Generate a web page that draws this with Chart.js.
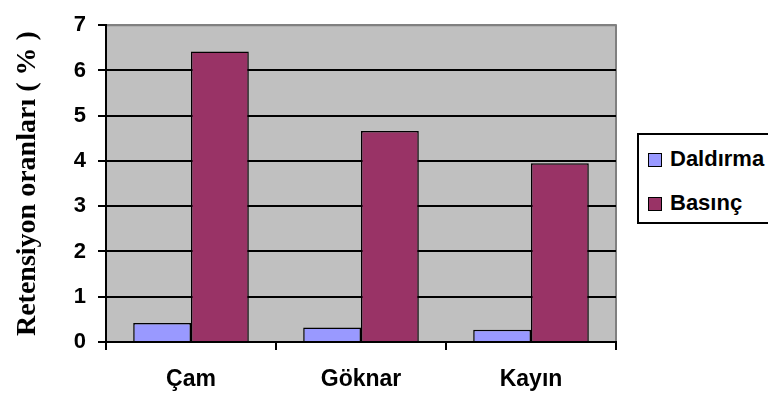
<!DOCTYPE html>
<html lang="tr">
    <head>
        <meta charset="UTF-8" />
        <title>Retensiyon oranları</title>
        <script src="https://cdn.jsdelivr.net/npm/chart.js@4.4.0/dist/chart.umd.min.js"></script>
        <style>
            html, body {
                margin: 0;
                padding: 0;
                background: #ffffff;
                overflow: hidden;
            }
            div.main {
                position: relative;
                width: 768px;
                height: 403px;
            }
            #legend {
                position: absolute;
                left: 637px;
                top: 133px;
                width: 150px;
                height: 87px;
                border: 2px solid #000;
                background: #fff;
                font-family: "Liberation Sans", Arial, sans-serif;
                font-weight: bold;
                font-size: 22px;
            }
            #legend .item {
                position: absolute;
                left: 9px;
                height: 26px;
                line-height: 26px;
                white-space: nowrap;
            }
            #legend .box {
                display: inline-block;
                width: 12px;
                height: 12px;
                border: 1.5px solid #000;
                margin-right: 8px;
                vertical-align: -1px;
            }
        </style>
    </head>

    <body>
        <div class="main">
            <canvas id="myChart" width="768" height="403"></canvas>
            <div id="legend"></div>
        </div>

        <script>
            const categories = ["Çam", "Göknar", "Kayın"];
            const daldirma = [0.42, 0.32, 0.27];
            const basinc = [6.42, 4.66, 3.95];
            const seriesNames = ["Daldırma", "Basınç"];
            const seriesColors = ["#9999FF", "#993366"];
            const yTitle = "Retensiyon oranları ( % )";

            // gray plot area + gray top/right frame
            const plotBg = {
                id: "plotBg",
                beforeDraw(chart) {
                    const { ctx, chartArea: a } = chart;
                    ctx.save();
                    ctx.fillStyle = "#C0C0C0";
                    ctx.fillRect(a.left, a.top, a.right - a.left, a.bottom - a.top);
                    ctx.strokeStyle = "#808080";
                    ctx.lineWidth = 2;
                    ctx.beginPath();
                    ctx.moveTo(a.left, a.top);
                    ctx.lineTo(a.right, a.top);
                    ctx.lineTo(a.right, a.bottom);
                    ctx.stroke();
                    ctx.restore();
                },
            };

            const ctx = document.getElementById("myChart").getContext("2d");
            const myChart = new Chart(ctx, {
                type: "bar",
                data: {
                    labels: categories,
                    datasets: [
                        {
                            label: seriesNames[0],
                            data: daldirma,
                            backgroundColor: seriesColors[0],
                            borderColor: "#000",
                            borderWidth: 1.5,
                        },
                        {
                            label: seriesNames[1],
                            data: basinc,
                            backgroundColor: seriesColors[1],
                            borderColor: "#000",
                            borderWidth: 1.5,
                        },
                    ],
                },
                options: {
                    responsive: false,
                    animation: false,
                    datasets: {
                        bar: { categoryPercentage: 0.68, barPercentage: 1.0 },
                    },
                    layout: { padding: { top: 17, right: 152, left: 0, bottom: 0 } },
                    plugins: {
                        legend: { display: false },
                        tooltip: { enabled: false },
                    },
                    scales: {
                        x: {
                            grid: {
                                drawOnChartArea: false,
                                tickLength: 8,
                                tickColor: "#000",
                                lineWidth: 2,
                            },
                            border: { color: "#000", width: 2 },
                            ticks: {
                                color: "#000",
                                padding: 16,
                                font: { family: "'Liberation Sans', Arial", size: 23, weight: "bold" },
                            },
                            afterFit(scale) {
                                scale.height = 61;
                            },
                        },
                        y: {
                            min: 0,
                            max: 7,
                            ticks: {
                                stepSize: 1,
                                color: "#000",
                                padding: 12,
                                font: { family: "'Liberation Sans', Arial", size: 22, weight: "bold" },
                            },
                            grid: {
                                color: (c) => (c.tick && c.tick.value === 7 ? "#808080" : "#000"),
                                tickColor: "#000",
                                tickLength: 8,
                                lineWidth: 2,
                            },
                            border: { color: "#000", width: 2 },
                            title: {
                                display: true,
                                text: yTitle,
                                color: "#000",
                                padding: { top: 14, bottom: 0 },
                                font: { family: "'Liberation Serif', 'Times New Roman', serif", size: 28, weight: "bold", lineHeight: 1.0 },
                            },
                            afterFit(scale) {
                                scale.width = 106;
                            },
                        },
                    },
                },
                plugins: [plotBg],
            });

            // legend box on the right
            const legend = document.getElementById("legend");
            const rowTops = [11, 55];
            seriesNames.forEach((name, i) => {
                const item = document.createElement("div");
                item.className = "item";
                item.style.top = rowTops[i] + "px";
                item.innerHTML = '<span class="box" style="background:' + seriesColors[i] + '"></span>' + name;
                legend.appendChild(item);
            });
        </script>
    </body>
</html>
